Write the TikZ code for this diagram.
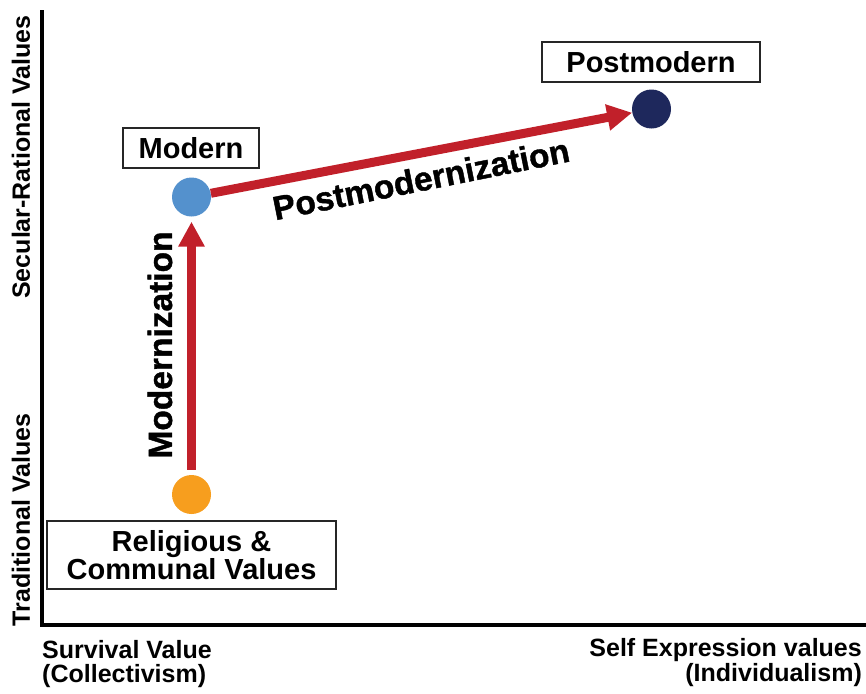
\documentclass[tikz,border=0pt]{standalone}
\usepackage{fontspec}
\setmainfont{Liberation Sans}
\newfontfamily\heavyfont[FakeBold=1.2]{Liberation Sans}
\usetikzlibrary{arrows.meta}
\definecolor{arrowred}{RGB}{193,32,42}
\definecolor{dotblue}{RGB}{84,145,205}
\definecolor{dotorange}{RGB}{247,158,30}
\definecolor{dotnavy}{RGB}{30,40,92}
\tikzset{
  axis/.style={line width=4pt, line cap=rect},
  dot/.style={circle, minimum size=39pt, inner sep=0pt},
  stagebox/.style={draw=black!85, line width=1.5pt, inner sep=0pt, align=center,
    font=\fontsize{29}{28}\selectfont\bfseries},
  axislabel/.style={inner sep=0pt, font=\fontsize{25}{26}\selectfont\bfseries},
  pathlabel/.style={inner sep=0pt, font=\heavyfont\fontsize{33.5}{34}\selectfont\bfseries},
  trend/.style={draw=arrowred, line width=9pt, -{Triangle[width=25pt,length=25pt]}, arrowred}
}
\begin{document}
\begin{tikzpicture}[x=1pt,y=-1pt]
\useasboundingbox (0,0) rectangle (866,693);
% axes
\coordinate (ytop) at (42,12);
\coordinate (origin) at (42,625);
\coordinate (xend) at (866,625);
\draw[axis] (ytop) -- (origin) -- (xend);
% axis labels
\node[axislabel, rotate=90] (ysec) at (21,157) {Secular-Rational Values};
\node[axislabel, rotate=90] (ytrad) at (21,520) {Traditional Values};
\node[axislabel, anchor=base west] (xsurv1) at (42,658) {Survival Value};
\node[axislabel, anchor=base west] (xsurv2) at (42,682) {(Collectivism)};
\node[axislabel, anchor=base east] (xself1) at (862,656) {Self Expression values};
\node[axislabel, anchor=base east] (xself2) at (862,681) {(Individualism)};
% boxes
\node[stagebox, minimum width=136pt, minimum height=40pt] (modbox) at (191,148) {Modern};
\node[stagebox, minimum width=218pt, minimum height=40pt] (postbox) at (651,62) {Postmodern};
\node[stagebox, minimum width=289pt, minimum height=68pt] (relbox) at (191.5,555) {Religious \&\\Communal Values};
% dots
\node[dot, fill=dotblue] (moddot) at (191.5,197) {};
\node[dot, fill=dotnavy] (postdot) at (651.5,109) {};
\node[dot, fill=dotorange] (reldot) at (191.5,494.5) {};
% arrows
\draw[trend, shorten <=5pt, shorten >=5pt] (reldot) -- (moddot);
\draw[trend] (moddot) -- (postdot);
% arrow labels
\node[pathlabel, rotate=90] (modlabel) at (160,345) {Modernization};
\node[pathlabel, rotate=11.3] (postlabel) at (421,179) {Postmodernization};
\end{tikzpicture}
\end{document}
